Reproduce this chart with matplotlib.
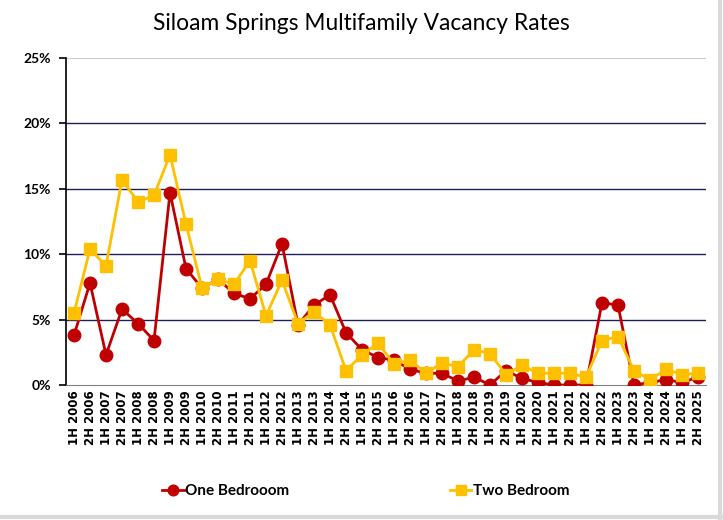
import numpy as np
import matplotlib
matplotlib.use('Agg')
import matplotlib.pyplot as plt
from matplotlib.lines import Line2D
from matplotlib.ticker import FuncFormatter

years = list(range(2006, 2026))
periods = ['%s %d' % (h, y) for y in years for h in ('1H', '2H')]

one_bed = [3.8, 7.8, 2.3, 5.8, 4.7, 3.4, 14.7, 8.9, 7.4, 8.1,
           7.0, 6.6, 7.7, 10.8, 4.6, 6.1, 6.9, 4.0, 2.7, 2.1,
           1.9, 1.2, 0.9, 0.9, 0.3, 0.6, 0.0, 1.1, 0.5, 0.2,
           0.0, 0.0, 0.0, 6.3, 6.1, 0.0, 0.2, 0.4, 0.2, 0.6]
two_bed = [5.5, 10.4, 9.1, 15.7, 14.0, 14.5, 17.6, 12.3, 7.4, 8.1,
           7.7, 9.5, 5.3, 8.0, 4.7, 5.6, 4.6, 1.1, 2.3, 3.2,
           1.6, 1.9, 0.9, 1.7, 1.4, 2.7, 2.4, 0.8, 1.5, 0.9,
           0.9, 0.9, 0.6, 3.4, 3.7, 1.1, 0.4, 1.2, 0.8, 0.9]

RED = '#C00000'
GOLD = '#FFC000'

fig = plt.figure(figsize=(7.23, 5.20), dpi=100)
ax = fig.add_axes([0.0913, 0.2596, 0.8852, 0.6289])

x = np.arange(len(periods))
ax.plot(x, one_bed, '-o', color=RED, lw=2, ms=9, label='One Bedrooom', zorder=3)
ax.plot(x, two_bed, '-s', color=GOLD, lw=2, ms=8.5, label='Two Bedroom', zorder=4)

ax.set_xlim(-0.5, len(periods) - 0.5)
ax.set_ylim(0, 25)
ax.set_yticks([0, 5, 10, 15, 20, 25])
ax.yaxis.set_major_formatter(FuncFormatter(lambda v, p: '%d%%' % v))
ax.set_xticks(x)
ax.set_xticklabels(periods, rotation=90, fontsize=8.5, fontweight='bold')
for lab in ax.get_yticklabels():
    lab.set_fontweight('bold')
    lab.set_fontsize(10)
    lab.set_family('Lato')

## gridlines
for v in [5, 10, 15, 20]:
    ax.axhline(v, color='#1F1F5F', lw=1, zorder=1)
ax.axhline(25, color='#BFBFD0', lw=1.2, zorder=1)

for s in ['top', 'right']:
    ax.spines[s].set_visible(False)
ax.spines['bottom'].set_color('#808080')
ax.spines['left'].set_color('black')
ax.spines['left'].set_linewidth(1.2)
ax.tick_params(axis='x', length=0, pad=4)
ax.tick_params(axis='y', length=5, width=1.2, direction='out', pad=6)

fig.suptitle('Siloam Springs Multifamily Vacancy Rates', y=0.975,
             fontsize=16.4, family='Lato')

fig.legend(loc='lower center', bbox_to_anchor=(0.506, 0.015), ncol=2,
           frameon=False, columnspacing=10.5, handlelength=1.4, handletextpad=0.1,
           markerscale=0.85,
           prop={'family': 'Lato', 'weight': 'bold', 'size': 11})

## grey frame on right and bottom edges
fig.lines.append(Line2D([0.9965, 0.9965], [0.0, 1.0], transform=fig.transFigure,
                        color='#D9D9D9', lw=3))
fig.lines.append(Line2D([0.0, 1.0], [0.006, 0.006], transform=fig.transFigure,
                        color='#D9D9D9', lw=3))

fig.savefig('out.png', dpi=100)
